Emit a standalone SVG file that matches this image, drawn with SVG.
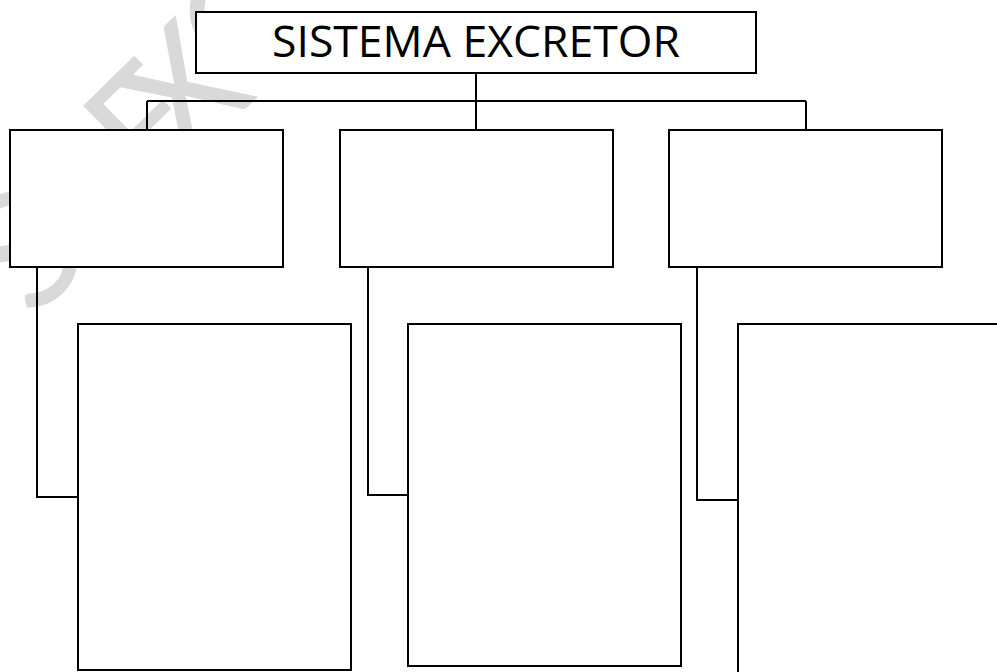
<svg xmlns="http://www.w3.org/2000/svg" width="997" height="672" viewBox="0 0 997 672">
  <style>
    .box { fill: #ffffff; stroke: #000000; stroke-width: 2; }
    .link { fill: none; stroke: #000000; stroke-width: 2; }
    .title { font-family: "Open Sans", "Liberation Sans", sans-serif; font-size: 44px; fill: #000000; }
    .mark { font-family: Lato, "Liberation Sans", sans-serif; font-size: 162px; fill: #d9d9d9; }
  </style>
  <rect width="997" height="672" fill="#ffffff"/>

  <!-- faint diagonal watermark, partly hidden by the boxes -->
  <g transform="translate(181 91) rotate(-44.5)">
    <text class="mark" x="-223" y="60" text-anchor="middle">S</text>
    <text class="mark" x="-95" y="58">E</text>
    <text class="mark" x="0" y="58" text-anchor="middle">X</text>
    <text class="mark" x="93" y="50" text-anchor="middle">C</text>
  </g>

  <g id="connectors">
    <path class="link" d="M476 73 V101 M147 101 H806 M147 101 V130 M476 101 V130 M806 101 V130"/>
    <path class="link" d="M37 267 V497 H78"/>
    <path class="link" d="M368 267 V495 H408"/>
    <path class="link" d="M697 267 V500 H738"/>
  </g>

  <g id="title">
    <rect class="box" x="196" y="12" width="560" height="61"/>
    <text class="title" x="476" y="57" text-anchor="middle" textLength="408" lengthAdjust="spacingAndGlyphs">SISTEMA EXCRETOR</text>
  </g>

  <g id="group-1"><rect class="box" x="10" y="130" width="273" height="137"/></g>
  <g id="group-2"><rect class="box" x="340" y="130" width="273" height="137"/></g>
  <g id="group-3"><rect class="box" x="669" y="130" width="273" height="137"/></g>

  <g id="detail-1"><rect class="box" x="78" y="324" width="273" height="346"/></g>
  <g id="detail-2"><rect class="box" x="408" y="324" width="273" height="342"/></g>
  <g id="detail-3"><rect class="box" x="738" y="324" width="300" height="360"/></g>
</svg>
